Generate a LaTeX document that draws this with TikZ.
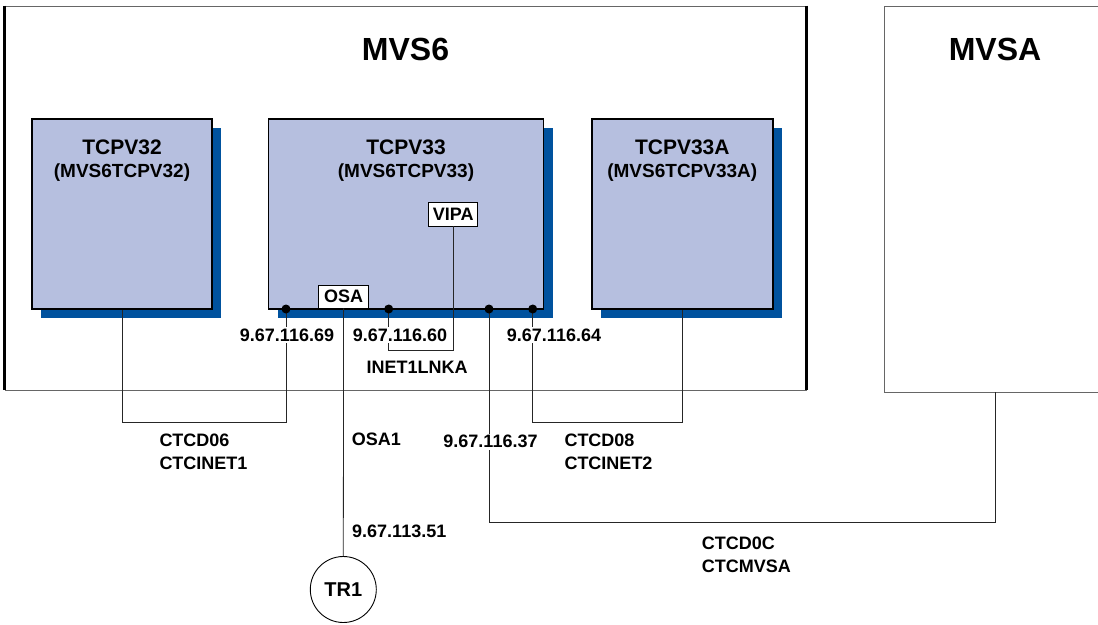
\documentclass[tikz,border=0pt]{standalone}
\usepackage{fontspec}
\setmainfont{Liberation Sans}
\usetikzlibrary{positioning, shadows, calc}
\definecolor{stackfill}{RGB}{182,191,223}
\definecolor{shadowblue}{RGB}{0,82,158}

\begin{document}
\begin{tikzpicture}[x=1pt, y=-1pt]
    \tikzstyle{system} = [rectangle, draw=black!60, line width=0.9pt, inner sep=0pt]
    \tikzstyle{systitle} = [font=\fontsize{32}{36}\selectfont\bfseries]
    \tikzstyle{stack} = [rectangle, draw=black, line width=1.4pt, fill=stackfill, inner sep=0pt, minimum height=190pt, drop shadow={shadow xshift=9pt, shadow yshift=-9pt, fill=shadowblue, opacity=1}]
    \tikzstyle{stacktitle} = [font=\fontsize{21}{24}\selectfont\bfseries]
    \tikzstyle{stacksub} = [font=\fontsize{19}{22}\selectfont\bfseries]
    \tikzstyle{intf} = [rectangle, draw=black, line width=0.8pt, fill=white, inner sep=0pt, minimum height=23pt, font=\fontsize{18}{20}\selectfont\bfseries]
    \tikzstyle{addr} = [fill=white, inner sep=1.5pt, font=\fontsize{18}{20}\selectfont\bfseries]
    \tikzstyle{linkname} = [align=left, anchor=west, inner sep=0pt, font=\fontsize{18}{23}\selectfont\bfseries]
    \tikzstyle{link} = [line width=0.8pt, black!85]
    \tikzstyle{dot} = [circle, fill=black, inner sep=0pt, minimum size=9pt]

    \useasboundingbox (0,0) rectangle (1098,624);

    % systems
    \node (mvs6) [system, minimum width=801pt, minimum height=384pt] at (405.5,198) {};
    \draw [line width=3pt] (mvs6.north west) -- (mvs6.south west);
    \draw [line width=3pt] (mvs6.north east) -- (mvs6.south east);
    \node [systitle] at ([yshift=-44pt]mvs6.north) {MVS6};
    \node (mvsa) [system, minimum width=222pt, minimum height=386pt] at (995,199) {};
    \node [systitle] at ([yshift=-44pt]mvsa.north) {MVSA};

    % tcp/ip stacks
    \node (tcp32) [stack, minimum width=180pt] at (122,214) {};
    \node (tcp33) [stack, minimum width=275pt] at (406,214) {};
    \node (tcp33a) [stack, minimum width=181pt] at (682.3,214) {};
    \node (t32) [stacktitle] at ([yshift=-29pt]tcp32.north) {TCPV32};
    \node [stacksub, below=2pt of t32] {(MVS6TCPV32)};
    \node (t33) [stacktitle] at ([yshift=-29pt]tcp33.north) {TCPV33};
    \node [stacksub, below=2pt of t33] {(MVS6TCPV33)};
    \node (t33a) [stacktitle] at ([yshift=-29pt]tcp33a.north) {TCPV33A};
    \node [stacksub, below=2pt of t33a] {(MVS6TCPV33A)};

    \node (osa) [intf, minimum width=50pt] at (343.6,296.5) {OSA};
    \node (vipa) [intf, minimum width=49pt, minimum height=24pt] at (453.3,214) {VIPA};
    \node (tr1) [circle, draw=black, line width=0.9pt, minimum size=66pt, inner sep=0pt, font=\fontsize{20}{22}\selectfont\bfseries] at (343.3,589.5) {TR1};

    % link end points
    \coordinate (p69) at (286,309);
    \coordinate (p60) at (388.7,309);
    \coordinate (p37) at (489,309);
    \coordinate (p64) at (532.7,309);
    \coordinate (j69) at (286,422.3);
    \coordinate (jvipa) at (388.7,350);
    \coordinate (j37) at (489,522);
    \coordinate (j64) at (532.7,422);

    % links
    \draw [link] (tcp32.south) |- (j69) -- (p69);
    \draw [link] (vipa.south) |- (jvipa) -- (p60);
    \draw [link] (osa.south) -- (tr1.north);
    \draw [link] (p37) -- (j37) -| (mvsa.south);
    \draw [link] (p64) -- (j64) -| (tcp33a.south);

    % labels
    \node [addr] at (287,335) {9.67.116.69};
    \node [addr] at (400,335) {9.67.116.60};
    \node [addr] at (554,335) {9.67.116.64};
    \node [addr] at (417,367.7) {INET1LNKA};
    \node [addr] at (490.5,441.7) {9.67.116.37};
    \node [linkname] at (159.3,451.5) {CTCD06\\CTCINET1};
    \node [linkname] at (351.7,439) {OSA1};
    \node [linkname] at (352,531.7) {9.67.113.51};
    \node [linkname] at (564.3,451.5) {CTCD08\\CTCINET2};
    \node [linkname] at (701.7,554.5) {CTCD0C\\CTCMVSA};

    \foreach \p in {p69, p60, p37, p64}
        \node [dot] at (\p) {};
\end{tikzpicture}
\end{document}
